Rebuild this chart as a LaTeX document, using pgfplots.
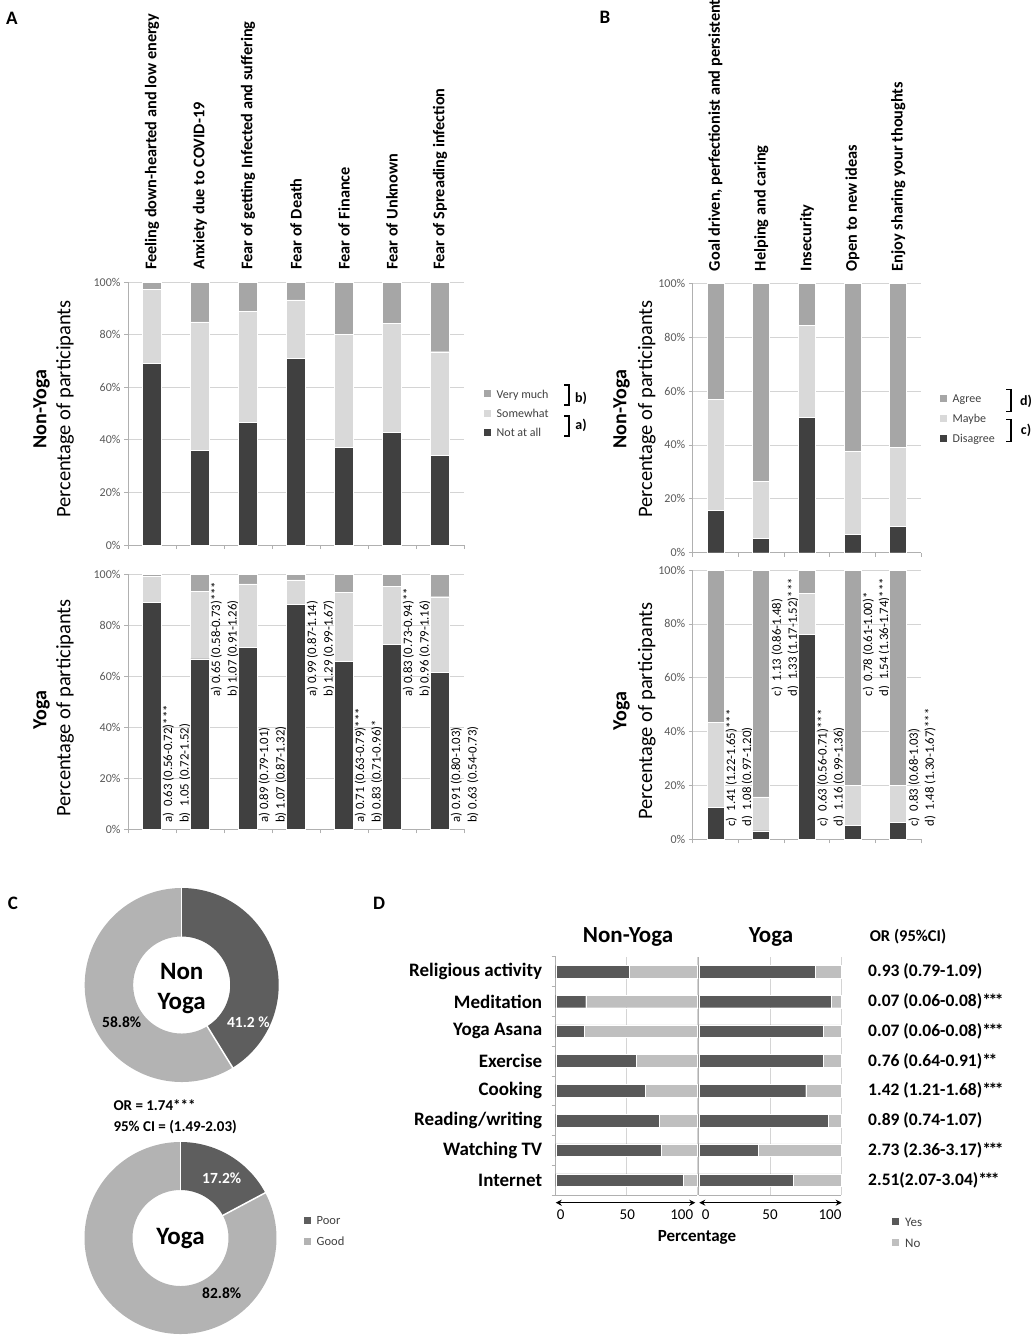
\documentclass[border=0pt]{standalone}
\usepackage{pgfplots}
\pgfplotsset{compat=1.18}
\usepackage{fontspec}
\setmainfont{Carlito}
\usetikzlibrary{arrows.meta}
\newcommand{\fz}[2]{\fontsize{#1pt}{#2pt}\selectfont}
\newcommand{\sta}{*\kern-2.5pt*\kern-2.5pt*}
\newcommand{\stb}{*\kern-2.5pt*}
\definecolor{vmuch}{HTML}{A6A6A6}
\definecolor{somew}{HTML}{D9D9D9}
\definecolor{notall}{HTML}{404040}
\definecolor{gridc}{HTML}{D4D4D4}
\definecolor{axc}{HTML}{B0B0B0}
\definecolor{tickc}{HTML}{595959}
\definecolor{legc}{HTML}{404040}
\definecolor{yesc}{HTML}{595959}
\definecolor{noc}{HTML}{BFBFBF}
\definecolor{poorc}{HTML}{5E5E5E}
\definecolor{goodc}{HTML}{B3B3B3}
\pgfplotsset{
  sq/.style={legend image code/.code={\fill[##1, draw=none] (0pt,-3.5pt) rectangle (7pt,3.5pt); \path[draw=none, fill=none] (0pt,0pt) -- (12pt,0pt);}},
  b/.style={sq, fill=#1, draw=white, line width=0.4pt},
  stackbar/.style={
    scale only axis, anchor=south west, ybar stacked, clip=false,
    ymin=0, ymax=100, xmin=-0.5,
    axis x line*=bottom, axis y line*=left,
    axis line style={draw=axc, line width=0.7pt},
    ytick={0,20,40,60,80,100},
    yticklabel={\pgfmathprintnumber{\tick}\%},
    yticklabel style={font=\fz{12}{14}, text=tickc},
    ymajorgrids, grid style={draw=gridc, line width=0.7pt},
    xticklabels={},
    tick align=outside, major tick length=4pt,
    tick style={draw=axc, line width=0.7pt},
    /pgf/number format/assume math mode=true,
    legend style={draw=none, fill=none, inner sep=0pt, anchor=west, font=\fz{12}{14}, text=legc,
      nodes={inner sep=1pt}},
    legend cell align=left, reverse legend,
  },
}
\tikzset{
  cat/.style={rotate=90, anchor=west, inner sep=0pt, font=\bfseries\fz{16.3}{19}},
  orA/.style={rotate=90, anchor=north west, inner sep=0pt, align=left, font=\fz{12.8}{16.5}},
  orB/.style={rotate=90, anchor=north west, inner sep=0pt, align=left, font=\fz{12.8}{16}},
  ord/.style={anchor=west, inner sep=0pt, font=\bfseries\fz{17.5}{20}},
}
\begin{document}
\begin{tikzpicture}
\path[use as bounding box] (0pt,0pt) rectangle (1036pt,-1339pt);

% ---------------- Panel A, Non-Yoga ----------------
\begin{axis}[stackbar, at={(128pt,-545pt)}, width=336pt, height=263pt,
  xmax=6.5, xtick={-0.5,0.5,...,6.5}, bar width=19pt,
  legend style={at={(1.058,0.5008)}, row sep=6pt}]
\addplot[b=notall] coordinates {(0,69.0) (1,36.1) (2,46.6) (3,71.1) (4,37.0) (5,42.8) (6,34.1)};
\addplot[b=somew] coordinates {(0,28.2) (1,48.7) (2,42.3) (3,22.1) (4,43.1) (5,41.4) (6,39.4)};
\addplot[b=vmuch] coordinates {(0,2.8) (1,15.2) (2,11.1) (3,6.8) (4,19.9) (5,15.8) (6,26.5)};
\legend{\strut Not at all, \strut Somewhat, \strut Very much}
\node[cat] at ([yshift=12pt]axis cs:0,100) {Feeling down-hearted and low energy};
\node[cat] at ([yshift=12pt]axis cs:1,100) {Anxiety due to COVID-19};
\node[cat] at ([yshift=12pt]axis cs:2,100) {Fear of getting Infected and suffering};
\node[cat] at ([yshift=12pt]axis cs:3,100) {Fear of Death};
\node[cat] at ([yshift=12pt]axis cs:4,100) {Fear of Finance};
\node[cat] at ([yshift=12pt]axis cs:5,100) {Fear of Unknown};
\node[cat] at ([yshift=12pt]axis cs:6,100) {Fear of Spreading infection};
\end{axis}

% ---------------- Panel A, Yoga ----------------
\begin{axis}[stackbar, at={(128pt,-829.3pt)}, width=336pt, height=255pt,
  xmax=6.5, xtick={-0.5,0.5,...,6.5}, bar width=19pt]
\addplot[b=notall] coordinates {(0,89.0) (1,66.8) (2,71.4) (3,88.2) (4,65.9) (5,72.4) (6,61.6)};
\addplot[b=somew] coordinates {(0,10.1) (1,26.4) (2,24.8) (3,9.6) (4,27.0) (5,22.8) (6,29.6)};
\addplot[b=vmuch] coordinates {(0,0.9) (1,6.8) (2,3.8) (3,2.2) (4,7.1) (5,4.8) (6,8.8)};
\node[orA] at ([xshift=10.5pt]axis cs:0,2.5) {a)\ \ 0.63 (0.56-0.72)***\\b)\ \ 1.05 (0.72-1.52)};
\node[orA] at ([xshift=10.5pt]axis cs:1,52) {a) 0.65 (0.58-0.73)***\\b) 1.07 (0.91-1.26)};
\node[orA] at ([xshift=10.5pt]axis cs:2,2.5) {a) 0.89 (0.79-1.01)\\b) 1.07 (0.87-1.32)};
\node[orA] at ([xshift=10.5pt]axis cs:3,52) {a) 0.99 (0.87-1.14)\\b) 1.29 (0.99-1.67)};
\node[orA] at ([xshift=10.5pt]axis cs:4,2.5) {a) 0.71 (0.63-0.79)***\\b) 0.83 (0.71-0.96)*};
\node[orA] at ([xshift=10.5pt]axis cs:5,52) {a) 0.83 (0.73-0.94)**\\b) 0.96 (0.79-1.16)};
\node[orA] at ([xshift=10.5pt]axis cs:6,2.5) {a) 0.91 (0.80-1.03)\\b) 0.63 (0.54-0.73)};
\end{axis}

% ---------------- Panel B, Non-Yoga ----------------
\begin{axis}[stackbar, at={(692.7pt,-552.7pt)}, width=228.3pt, height=269.4pt,
  xmax=4.5, xtick={-0.5,0.5,...,4.5}, bar width=17pt,
  legend style={at={(1.081,0.4989)}, row sep=7pt}]
\addplot[b=notall] coordinates {(0,15.8) (1,5.3) (2,50.2) (3,6.8) (4,9.8)};
\addplot[b=somew] coordinates {(0,41.1) (1,21.3) (2,34.3) (3,30.8) (4,29.4)};
\addplot[b=vmuch] coordinates {(0,43.1) (1,73.4) (2,15.5) (3,62.4) (4,60.8)};
\legend{\strut Disagree, \strut Maybe, \strut Agree}
\node[cat] at ([yshift=12pt]axis cs:0,100) {Goal driven, perfectionist and persistent};
\node[cat] at ([yshift=12pt]axis cs:1,100) {Helping and caring};
\node[cat] at ([yshift=12pt]axis cs:2,100) {Insecurity};
\node[cat] at ([yshift=12pt]axis cs:3,100) {Open to new ideas};
\node[cat] at ([yshift=12pt]axis cs:4,100) {Enjoy sharing your thoughts};
\end{axis}

% ---------------- Panel B, Yoga ----------------
\begin{axis}[stackbar, at={(692.7pt,-839.3pt)}, width=228.3pt, height=269.3pt,
  xmax=4.5, xtick={-0.5,0.5,...,4.5}, bar width=17pt]
\addplot[b=notall] coordinates {(0,11.8) (1,3.1) (2,76.2) (3,5.3) (4,6.3)};
\addplot[b=somew] coordinates {(0,31.6) (1,12.7) (2,15.1) (3,14.7) (4,13.7)};
\addplot[b=vmuch] coordinates {(0,56.6) (1,84.2) (2,8.7) (3,80.0) (4,80.0)};
\node[orB] at ([xshift=10.1pt]axis cs:0,4.7) {c)\ \ 1.41 (1.22-1.65)***\\d)\ \ 1.08 (0.97-1.20)};
\node[orB] at ([xshift=10.1pt]axis cs:1,53) {c)\ \ 1.13 (0.86-1.48)\\d)\ \ 1.33 (1.17-1.52)***};
\node[orB] at ([xshift=10.1pt]axis cs:2,4.7) {c)\ \ 0.63 (0.56-0.71)***\\d)\ \ 1.16 (0.99-1.36)};
\node[orB] at ([xshift=10.1pt]axis cs:3,53) {c)\ \ 0.78 (0.61-1.00)*\\d)\ \ 1.54 (1.36-1.74)***};
\node[orB] at ([xshift=10.1pt]axis cs:4,4.7) {c)\ \ 0.83 (0.68-1.03)\\d)\ \ 1.48 (1.30-1.67)***};
\end{axis}

% ---------------- Panel C donuts ----------------
\pgfmathsetmacro{\aA}{90-3.6*41.2}
\pgfmathsetmacro{\aB}{90-3.6*17.2}
\begin{axis}[scale only axis, anchor=center, at={(181.7pt,-985pt)}, width=194pt, height=194pt,
  xmin=-1, xmax=1, ymin=-1, ymax=1, hide axis, clip=false]
\addplot[forget plot, draw=poorc, line width=48.5pt, domain=\aA:90, samples=120] ({0.75*cos(x)},{0.75*sin(x)});
\addplot[forget plot, draw=goodc, line width=48.5pt, domain=-270:\aA, samples=160] ({0.75*cos(x)},{0.75*sin(x)});
\addplot[forget plot, draw=white, line width=1.5pt, domain=0.49:1.01, samples=2] ({x*cos(90)},{x*sin(90)});
\addplot[forget plot, draw=white, line width=1.5pt, domain=0.49:1.01, samples=2] ({x*cos(\aA)},{x*sin(\aA)});
\end{axis}
\begin{axis}[scale only axis, anchor=center, at={(180.5pt,-1238pt)}, width=192pt, height=192pt,
  xmin=-1, xmax=1, ymin=-1, ymax=1, hide axis, clip=false,
  legend style={draw=none, fill=none, inner sep=0pt, anchor=west, at={(1.1406,0.537)}, row sep=7pt,
    font=\fz{12.5}{14}, text=legc, nodes={inner sep=1pt}},
  legend cell align=left]
\addplot[forget plot, draw=poorc, line width=48pt, domain=\aB:90, samples=80] ({0.75*cos(x)},{0.75*sin(x)});
\addplot[forget plot, draw=goodc, line width=48pt, domain=-270:\aB, samples=200] ({0.75*cos(x)},{0.75*sin(x)});
\addplot[forget plot, draw=white, line width=1.5pt, domain=0.49:1.01, samples=2] ({x*cos(90)},{x*sin(90)});
\addplot[forget plot, draw=white, line width=1.5pt, domain=0.49:1.01, samples=2] ({x*cos(\aB)},{x*sin(\aB)});
\addlegendimage{sq, fill=poorc, draw=none}
\addlegendentry{\strut Poor}
\addlegendimage{sq, fill=goodc, draw=none}
\addlegendentry{\strut Good}
\end{axis}

% ---------------- Panel D ----------------
\begin{axis}[scale only axis, anchor=north west, at={(555.7pt,-956.7pt)}, width=141.6pt, height=238.3pt,
  xbar stacked, bar width=12.7pt, clip=false,
  xmin=0, xmax=100, ymin=-0.5, ymax=7.5,
  axis x line*=bottom, axis y line*=left, axis line style={draw=axc, line width=0.7pt},
  xtick={0,50,100}, xticklabels={}, xmajorgrids, grid style={draw=gridc, line width=0.7pt},
  ytick={0,1,2,3,4,5,6,7},
  yticklabels={Internet, Watching TV, Reading/writing, Cooking, Exercise, Yoga Asana, Meditation, Religious activity},
  yticklabel style={font=\bfseries\fz{19}{22}, text=black, xshift=-10pt},
  major tick length=0pt, tick style={draw=axc, line width=0.7pt},
  extra y ticks={-0.5,0.5,1.5,2.5,3.5,4.5,5.5,6.5,7.5}, extra y tick labels={},
  extra y tick style={major tick length=4pt, tick align=outside}]
\addplot[b=yesc] coordinates {(89.9,0) (74.8,1) (73.4,2) (63.5,3) (56.9,4) (20.0,5) (21.2,6) (52.0,7)};
\addplot[b=noc] coordinates {(10.1,0) (25.2,1) (26.6,2) (36.5,3) (43.1,4) (80.0,5) (78.8,6) (48.0,7)};
\end{axis}
\begin{axis}[scale only axis, anchor=north west, at={(698.7pt,-956.7pt)}, width=142.3pt, height=238.3pt,
  xbar stacked, bar width=12.7pt, clip=false,
  xmin=0, xmax=100, ymin=-0.5, ymax=7.5,
  axis x line*=bottom, axis y line*=left, axis line style={draw=axc, line width=0.7pt},
  xtick={0,50,100}, xticklabels={}, xmajorgrids, grid style={draw=gridc, line width=0.7pt},
  ytick=\empty, major tick length=0pt,
  legend style={draw=none, fill=none, inner sep=0pt, anchor=west, at={(1.3584,-0.156)}, row sep=7pt,
    font=\fz{13}{15}, text=legc, nodes={inner sep=1pt}},
  legend cell align=left]
\addplot[b=yesc] coordinates {(66.3,0) (41.5,1) (91.3,2) (75.2,3) (87.6,4) (87.6,5) (93.4,6) (82.0,7)};
\addplot[b=noc] coordinates {(33.7,0) (58.5,1) (8.7,2) (24.8,3) (12.4,4) (12.4,5) (6.6,6) (18.0,7)};
\legend{\strut Yes, \strut No}
\node[ord] at ([xshift=27pt]axis cs:100,7) {0.93 (0.79-1.09)};
\node[ord] at ([xshift=27pt]axis cs:100,6) {0.07 (0.06-0.08)\sta};
\node[ord] at ([xshift=27pt]axis cs:100,5) {0.07 (0.06-0.08)\sta};
\node[ord] at ([xshift=27pt]axis cs:100,4) {0.76 (0.64-0.91)\stb};
\node[ord] at ([xshift=27pt]axis cs:100,3) {1.42 (1.21-1.68)\sta};
\node[ord] at ([xshift=27pt]axis cs:100,2) {0.89 (0.74-1.07)};
\node[ord] at ([xshift=27pt]axis cs:100,1) {2.73 (2.36-3.17)\sta};
\node[ord] at ([xshift=27pt]axis cs:100,0) {2.51(2.07-3.04)\sta};
\end{axis}

% ---------------- free text ----------------
\node[font=\bfseries\fz{19}{21}] at (12pt,-18pt) {A};
\node[font=\bfseries\fz{19}{21}] at (605pt,-17pt) {B};
\node[font=\bfseries\fz{19}{21}] at (13pt,-903pt) {C};
\node[font=\bfseries\fz{19}{21}] at (379pt,-903pt) {D};

\node[rotate=90, font=\bfseries\fz{20}{24}] at (41.7pt,-409pt) {Non-Yoga};
\node[rotate=90, font=\fz{20.5}{24}] at (65pt,-409pt) {Percentage of participants};
\node[rotate=90, font=\bfseries\fz{20}{24}] at (41.7pt,-710pt) {Yoga};
\node[rotate=90, font=\fz{20.5}{24}] at (65pt,-708pt) {Percentage of participants};
\node[rotate=90, font=\bfseries\fz{20}{24}] at (621.7pt,-409pt) {Non-Yoga};
\node[rotate=90, font=\fz{20.5}{24}] at (646.7pt,-409pt) {Percentage of participants};
\node[rotate=90, font=\bfseries\fz{20}{24}] at (621.7pt,-711pt) {Yoga};
\node[rotate=90, font=\fz{20.5}{24}] at (646.7pt,-711pt) {Percentage of participants};

% brackets A
\draw[line width=1.4pt] (564pt,-385pt) -- (569pt,-385pt) -- (569pt,-405pt) -- (564pt,-405pt);
\draw[line width=1.4pt] (564pt,-416pt) -- (569pt,-416pt) -- (569pt,-436pt) -- (564pt,-436pt);
\node[font=\bfseries\fz{14}{16}] at (581pt,-398.3pt) {b)};
\node[font=\bfseries\fz{14}{16}] at (581pt,-425pt) {a)};
% brackets B
\draw[line width=1.4pt] (1006pt,-389.3pt) -- (1011pt,-389.3pt) -- (1011pt,-411.7pt) -- (1006pt,-411.7pt);
\draw[line width=1.4pt] (1006pt,-419.3pt) -- (1011pt,-419.3pt) -- (1011pt,-441.7pt) -- (1006pt,-441.7pt);
\node[font=\bfseries\fz{14}{16}] at (1026pt,-401.7pt) {d)};
\node[font=\bfseries\fz{14}{16}] at (1026pt,-430pt) {c)};

% donut texts
\node[font=\bfseries\fz{25}{30}, align=center] at (181.7pt,-988pt) {Non\\Yoga};
\node[font=\bfseries\fz{15.5}{18}, text=white] at (248.3pt,-1022.3pt) {41.2 \%};
\node[font=\bfseries\fz{15.5}{18}] at (121.7pt,-1022.3pt) {58.8\%};
\node[font=\bfseries\fz{15}{18}, anchor=west] at (110pt,-1105pt) {OR = 1.74***};
\node[font=\bfseries\fz{15}{18}, anchor=west] at (110pt,-1126.7pt) {95\% CI = (1.49-2.03)};
\node[font=\bfseries\fz{25}{28}] at (180.5pt,-1238pt) {Yoga};
\node[font=\bfseries\fz{15.5}{18}, text=white] at (221.7pt,-1178.3pt) {17.2\%};
\node[font=\bfseries\fz{15.5}{18}] at (221.7pt,-1293.3pt) {82.8\%};

% panel D texts
\node[font=\bfseries\fz{23}{26}] at (628pt,-937pt) {Non-Yoga};
\node[font=\bfseries\fz{23}{26}] at (771pt,-937pt) {Yoga};
\node[font=\bfseries\fz{16.5}{20}] at (908pt,-937pt) {OR (95\%CI)};
\draw[{Stealth[length=6pt,width=6pt]}-{Stealth[length=6pt,width=6pt]}, line width=1pt] (555.7pt,-1202.7pt) -- (695.3pt,-1202.7pt);
\draw[{Stealth[length=6pt,width=6pt]}-{Stealth[length=6pt,width=6pt]}, line width=1pt] (699.3pt,-1202.7pt) -- (841.7pt,-1202.7pt);
\node[font=\fz{15}{17}] at (560.7pt,-1215pt) {0};
\node[font=\fz{15}{17}] at (627.3pt,-1215pt) {50};
\node[font=\fz{15}{17}] at (681.7pt,-1215pt) {100};
\node[font=\fz{15}{17}] at (705.7pt,-1215pt) {0};
\node[font=\fz{15}{17}] at (770pt,-1215pt) {50};
\node[font=\fz{15}{17}] at (830pt,-1215pt) {100};
\node[font=\bfseries\fz{17}{20}] at (697pt,-1237.3pt) {Percentage};
\end{tikzpicture}
\end{document}
